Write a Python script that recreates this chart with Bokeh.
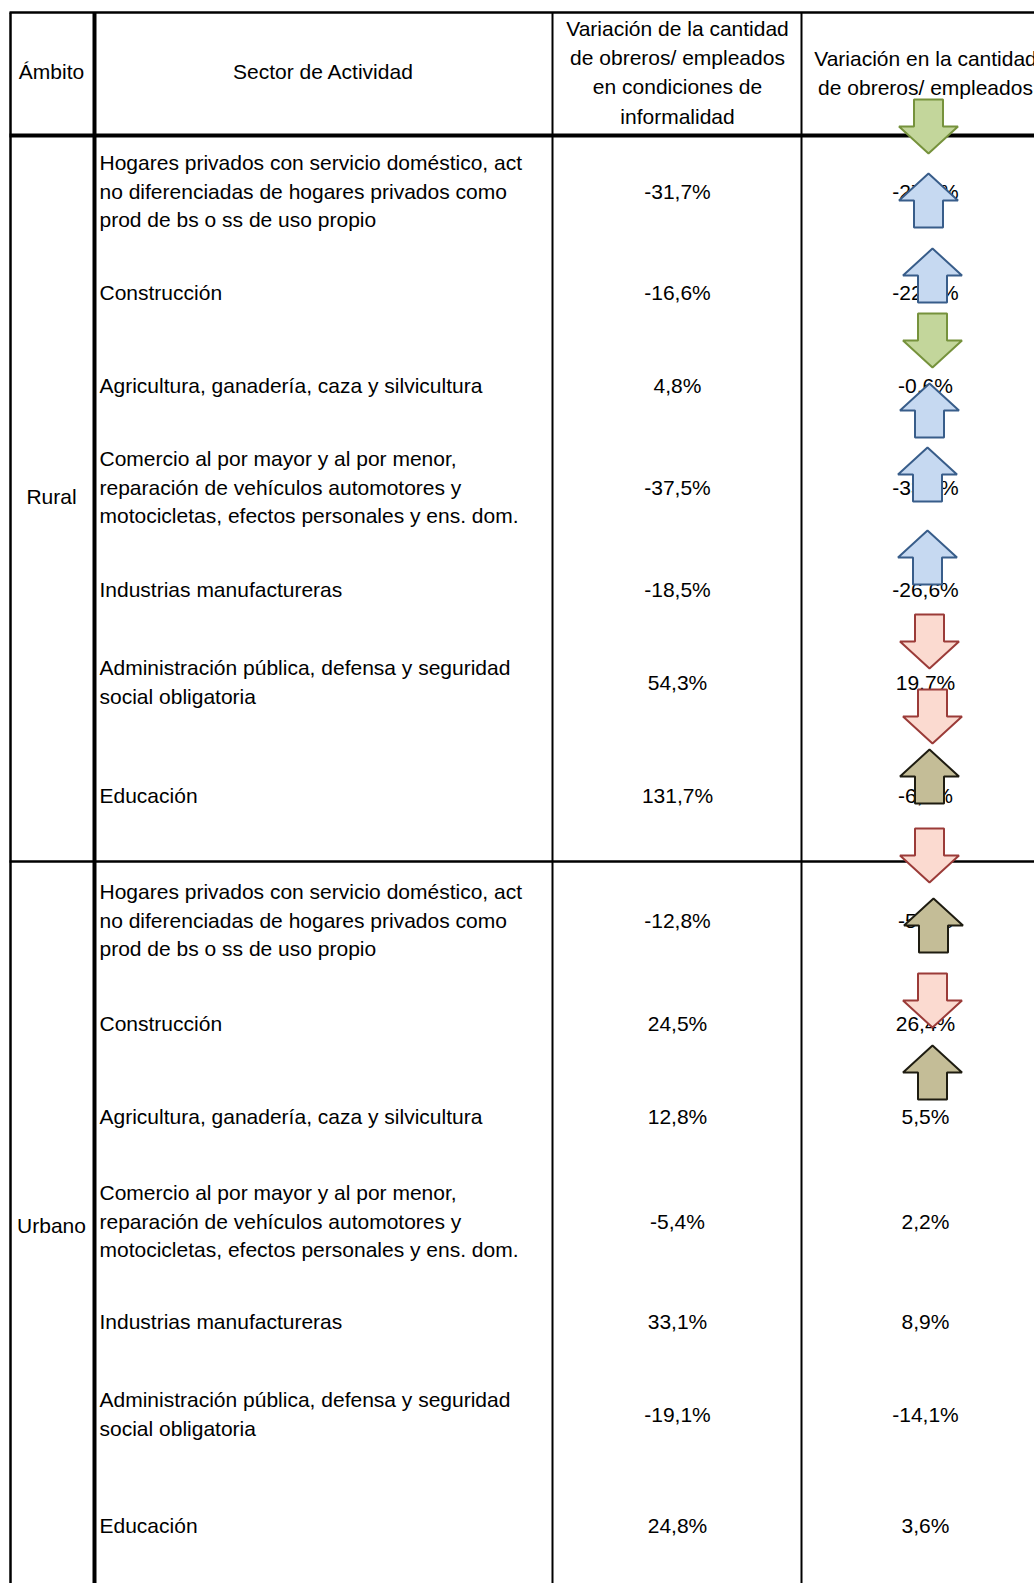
from bokeh.plotting import figure
from bokeh.models import Range1d, ColumnDataSource
from bokeh.embed import file_html
from bokeh.resources import INLINE
from bokeh.core.properties import value

# ---------------- data ----------------
encabezados = [
    "Ámbito",
    "Sector de Actividad",
    "Variación de la cantidad\nde obreros/ empleados\nen condiciones de\ninformalidad",
    "Variación en la cantidad\nde obreros/ empleados",
]
ambitos = ["Rural", "Urbano"]
sectores = [
    "Hogares privados con servicio doméstico, act\nno diferenciadas de hogares privados como\nprod de bs o ss de uso propio",
    "Construcción",
    "Agricultura, ganadería, caza y silvicultura",
    "Comercio al por mayor y al por menor,\nreparación de vehículos automotores y\nmotocicletas, efectos personales y ens. dom.",
    "Industrias manufactureras",
    "Administración pública, defensa y seguridad\nsocial obligatoria",
    "Educación",
]
var_informal_rural = [-31.7, -16.6, 4.8, -37.5, -18.5, 54.3, 131.7]
var_total_rural = [-27.5, -22.8, -0.6, -33.0, -26.6, 19.7, -6.3]
var_informal_urbano = [-12.8, 24.5, 12.8, -5.4, 33.1, -19.1, 24.8]
var_total_urbano = [-5.2, 26.4, 5.5, 2.2, 8.9, -14.1, 3.6]

# decorative arrows (kind, direction)
flechas_tipo = ["verde", "azul", "azul", "verde", "azul", "azul", "azul",
                "rosa", "rosa", "caqui", "rosa", "caqui", "rosa", "caqui"]
flechas_dir = ["abajo", "arriba", "arriba", "abajo", "arriba", "arriba", "arriba",
               "abajo", "abajo", "arriba", "abajo", "arriba", "abajo", "arriba"]

# ---------------- layout (image pixel coordinates) ----------------
W, H = 1034, 1583
OX, OY = 0, 0
DY = -1.5  # small text baseline correction
rural_y = [192, 293, 386, 488, 590, 683, 796]
urbano_y = [921, 1024, 1117, 1222, 1322, 1415, 1526]
ambito_y = [497, 1226]
flechas_x = [928, 928, 932, 932, 929, 927, 927, 929, 932, 929, 929, 933, 932, 932]
flechas_top = [99, 173, 248, 313, 383, 447, 530, 614, 689, 749, 828, 898, 973, 1045]
colores = {
    "verde": ("#C3D69B", "#76923C"),
    "azul": ("#C6D9F1", "#385D8A"),
    "rosa": ("#FBDAD0", "#9B3B38"),
    "caqui": ("#C4BD97", "#1E1C11"),
}
LH = 28.8
FONT = value("Liberation Sans")
FS = "21px"

p = figure(width=W, height=H, output_backend="svg", toolbar_location=None,
           x_range=Range1d(OX, OX + W), y_range=Range1d(OY + H, OY),
           min_border=0, border_fill_color="white", background_fill_color="white")
p.axis.visible = False
p.xgrid.visible = False
p.ygrid.visible = False
p.outline_line_color = None


def fmt(v):
    return ("%.1f" % v).replace(".", ",") + "%"


def add_lines(store, x, yc, txt):
    lines = txt.split("\n")
    n = len(lines)
    for i, ln in enumerate(lines):
        store["x"].append(x)
        store["y"].append(yc + DY + (i - (n - 1) / 2) * LH)
        store["t"].append(ln)


left = {"x": [], "y": [], "t": []}
center = {"x": [], "y": [], "t": []}

# headers
add_lines(center, 51, 72, encabezados[0])
add_lines(center, 323, 72, encabezados[1])
hdr3 = encabezados[2].split("\n")
for i, ln in enumerate(hdr3):
    center["x"].append(677); center["y"].append(29.5 + DY + i * 29.2); center["t"].append(ln)
hdr4 = encabezados[3].split("\n")
for i, ln in enumerate(hdr4):
    center["x"].append(925); center["y"].append(59 + DY + i * 29.2); center["t"].append(ln)

# ambitos
for a, y in zip(ambitos, ambito_y):
    add_lines(center, 51, y, a)

# rows
for ys, v3, v4 in [(rural_y, var_informal_rural, var_total_rural),
                   (urbano_y, var_informal_urbano, var_total_urbano)]:
    for s, y, a, b in zip(sectores, ys, v3, v4):
        add_lines(left, 99, y, s)
        add_lines(center, 677, y, fmt(a))
        add_lines(center, 925, y, fmt(b))

p.text(x="x", y="y", text="t", source=ColumnDataSource(left), text_font=FONT,
       text_font_size=FS, text_align="left", text_baseline="middle", text_color="black")
p.text(x="x", y="y", text="t", source=ColumnDataSource(center), text_font=FONT,
       text_font_size=FS, text_align="center", text_baseline="middle", text_color="black")

# grid lines of table
RIGHT = 1040
BOTTOM = 1590
seg = dict(x0=[9, 9, 9, 10, 94, 552, 801],
           y0=[12, 135, 861, 12, 12, 12, 12],
           x1=[RIGHT, RIGHT, RIGHT, 10, 94, 552, 801],
           y1=[12, 135, 861, BOTTOM, BOTTOM, BOTTOM, BOTTOM],
           w=[2.5, 4, 2.5, 2.5, 4, 2, 2])
p.segment(x0="x0", y0="y0", x1="x1", y1="y1", line_width="w", line_color="black",
          source=ColumnDataSource(seg))

# arrows
HW, SW, HH, TOT = 29.5, 14.5, 27, 54
xs, ys, fc, lc = [], [], [], []
for k, d, cx, top in zip(flechas_tipo, flechas_dir, flechas_x, flechas_top):
    if d == "arriba":
        px = [cx, cx + HW, cx + SW, cx + SW, cx - SW, cx - SW, cx - HW]
        py = [top, top + HH, top + HH, top + TOT, top + TOT, top + HH, top + HH]
    else:
        px = [cx - SW, cx + SW, cx + SW, cx + HW, cx, cx - HW, cx - SW]
        py = [top, top, top + TOT - HH, top + TOT - HH, top + TOT, top + TOT - HH, top + TOT - HH]
    xs.append(px); ys.append(py)
    fc.append(colores[k][0]); lc.append(colores[k][1])
p.patches(xs="xs", ys="ys", fill_color="fc", line_color="lc", line_width=2,
          source=ColumnDataSource(dict(xs=xs, ys=ys, fc=fc, lc=lc)))

open("out.html", "w").write(file_html(p, INLINE))
